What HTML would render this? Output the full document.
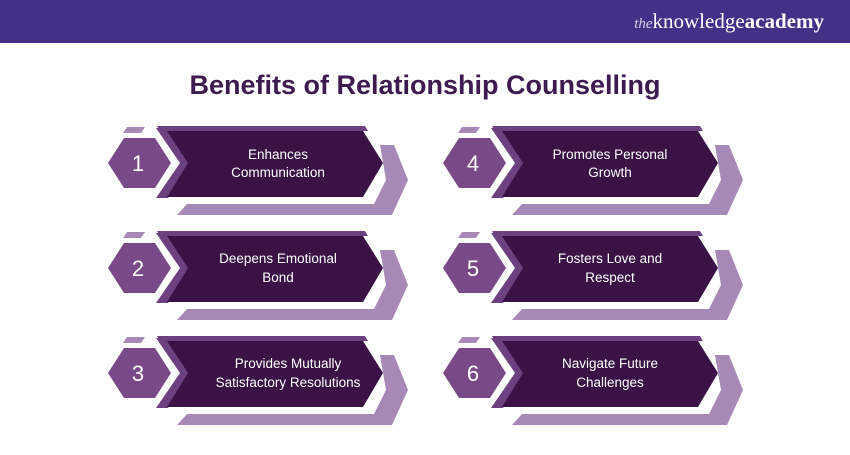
<!DOCTYPE html>
<html><head><style>
body{margin:0;width:850px;height:450px;background:#fff;overflow:hidden;font-family:"Liberation Sans",sans-serif}
</style></head><body>
<svg width="850" height="450" viewBox="0 0 850 450" xmlns="http://www.w3.org/2000/svg">
<rect x="0" y="0" width="850" height="43" fill="#443087"/>
<text x="824" y="28" text-anchor="end" font-family="Liberation Serif,serif" font-size="21" fill="#fff"><tspan font-style="italic" font-size="15" fill="#d8d0ec">the</tspan>knowledge<tspan font-weight="bold">academy</tspan></text>
<text x="425" y="94" text-anchor="middle" font-size="27" font-weight="bold" fill="#3d1a4f">Benefits of Relationship Counselling</text>
<defs>
<g id="card">
<polygon points="380,145 394,145 408,180 392,215 177,215 187,204 374,204 386,180" fill="#a689b6"/>
<polygon points="157,126 365,126 368,131 160,131" fill="#6d4180"/>
<polygon points="156,128 168,128 192,163 168,198 156,198 180,163" fill="#6d4180"/>
<polygon points="167,131 363,131 383,163 363,197 167,197 188,163" fill="#3a1245"/>
<polygon points="108,163 124,138 155,138 171,163 155,188 124,188" fill="#7a4a88"/>
<polygon points="123,133 141,133 145,127 127,127" fill="#a689b6"/>
</g>
</defs>
<g font-size="13.5" fill="#fff" text-anchor="middle">
<use href="#card"/>
<text x="138" y="171" font-size="22">1</text>
<text x="278" y="159">Enhances</text><text x="278" y="177">Communication</text>
<use href="#card" transform="translate(0,105)"/>
<text x="138" y="276" font-size="22">2</text>
<text x="278" y="263">Deepens Emotional</text><text x="278" y="282">Bond</text>
<use href="#card" transform="translate(0,210)"/>
<text x="138" y="381" font-size="22">3</text>
<text x="288" y="368">Provides Mutually</text><text x="288" y="387">Satisfactory Resolutions</text>
<use href="#card" transform="translate(335,0)"/>
<text x="473" y="171" font-size="22">4</text>
<text x="610" y="159">Promotes Personal</text><text x="610" y="177">Growth</text>
<use href="#card" transform="translate(335,105)"/>
<text x="473" y="276" font-size="22">5</text>
<text x="610" y="263">Fosters Love and</text><text x="610" y="282">Respect</text>
<use href="#card" transform="translate(335,210)"/>
<text x="473" y="381" font-size="22">6</text>
<text x="610" y="368">Navigate Future</text><text x="610" y="387">Challenges</text>
</g>
</svg>
</body></html>
